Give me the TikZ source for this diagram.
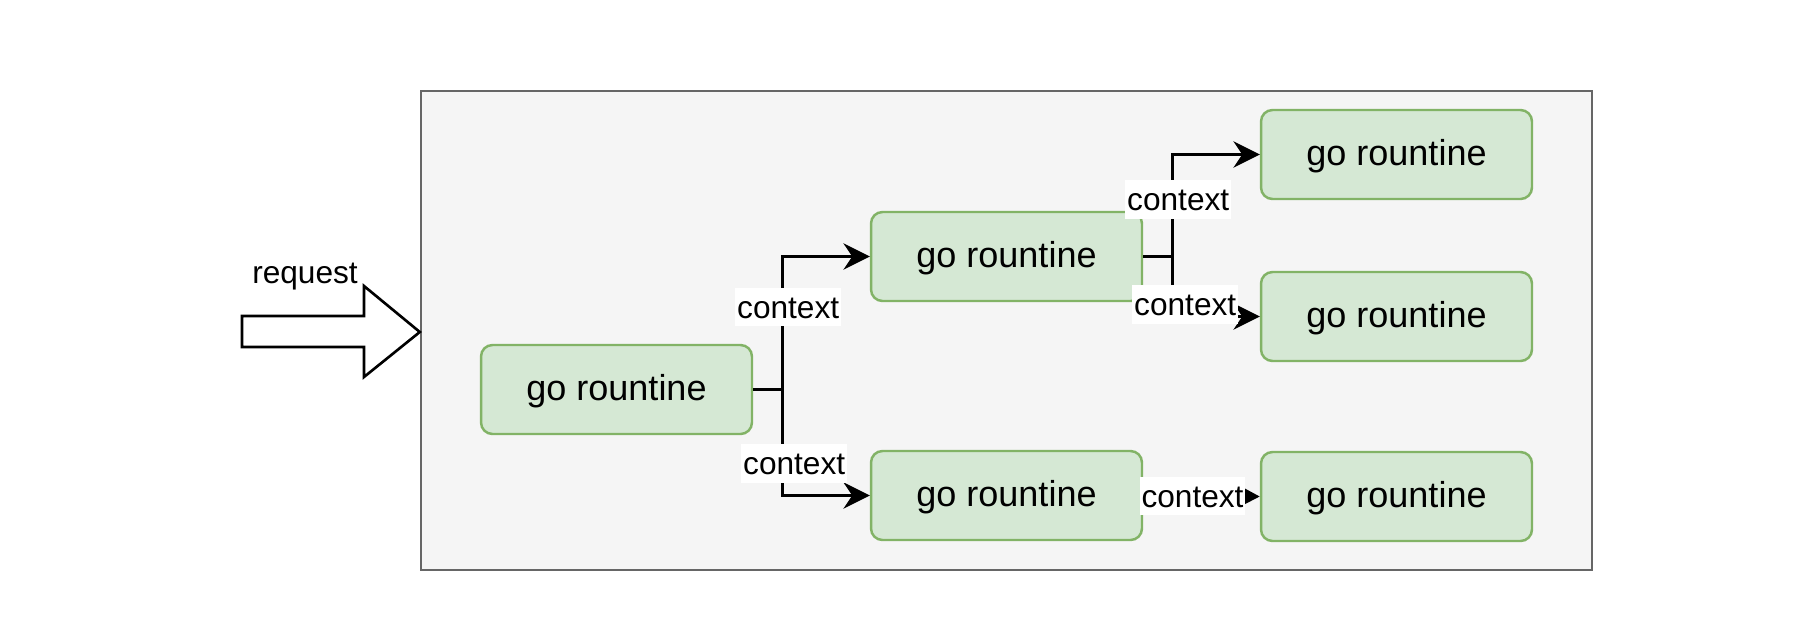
\documentclass[tikz,border=0pt]{standalone}
\usepackage{fontspec}
\setmainfont{Liberation Sans}
\usetikzlibrary{arrows.meta}

\definecolor{gofill}{HTML}{D5E8D4}
\definecolor{goline}{HTML}{82B366}
\definecolor{boxfill}{HTML}{F5F5F5}
\definecolor{boxline}{HTML}{666666}

\begin{document}
\begin{tikzpicture}[x=0.02cm, y=-0.02cm,
  routine/.style={draw=goline, fill=gofill, line width=1.4pt, rounded corners=6.5pt,
    minimum width=5.42cm, minimum height=1.78cm, inner sep=0pt,
    text height=15pt, text depth=3pt, font=\fontsize{20.5}{24}\selectfont},
  ctx/.style={fill=white, inner xsep=1pt, inner ysep=2.3pt,
    text height=15pt, text depth=2.4pt, font=\fontsize{18}{22}\selectfont},
  link/.style={line width=1.6pt, -{Stealth[length=15pt, width=15pt, inset=5pt]}}]
\useasboundingbox (0,0) rectangle (1806,636);
\node[draw=boxline, fill=boxfill, line width=1.5pt, minimum width=23.42cm,
  minimum height=9.58cm] (server) at (1006.5,330.5) {};
% incoming request
\draw[line width=1.5pt, fill=white, line join=miter]
       (242,316)
  -- ++(122,0)
  -- ++(0,-30)
  -- (server.west |- 0,332)
  -- (364,377)
  -- ++(0,-30)
  -- ++(-122,0)
  -- cycle;
\node[font=\fontsize{18}{22}\selectfont] (request) at (305,277) {request};
\node[routine] (root)  at (616.5,389.5)  {go rountine};
\node[routine] (upper) at (1006.5,256.5) {go rountine};
\node[routine] (lower) at (1006.5,495.5) {go rountine};
\node[routine] (leafA) at (1396.5,154.5) {go rountine};
\node[routine] (leafB) at (1396.5,316.5) {go rountine};
\node[routine] (leafC) at (1396.5,496.5) {go rountine};
\draw[link] (root.east) -- ++(29,0)
  |- node[ctx, pos=0.31, xshift=0.12cm]{context} (upper.west);
\draw[link] (root.east) -- ++(29,0)
  |- node[ctx, pos=0.35, xshift=0.24cm]{context} (lower.west);
\draw[link] (upper.east) -- ++(29,0)
  |- node[ctx, pos=0.28, xshift=0.12cm]{context} (leafA.west);
\draw[link] (upper.east) -- ++(29,0)
  |- node[ctx, pos=0.4, xshift=0.26cm]{context} (leafB.west);
\draw[line width=1.6pt, -{Triangle[length=9pt, width=9pt]}]
  (lower.east) -- node[ctx, xshift=-0.18cm]{context} (leafC.west);
\end{tikzpicture}
\end{document}
